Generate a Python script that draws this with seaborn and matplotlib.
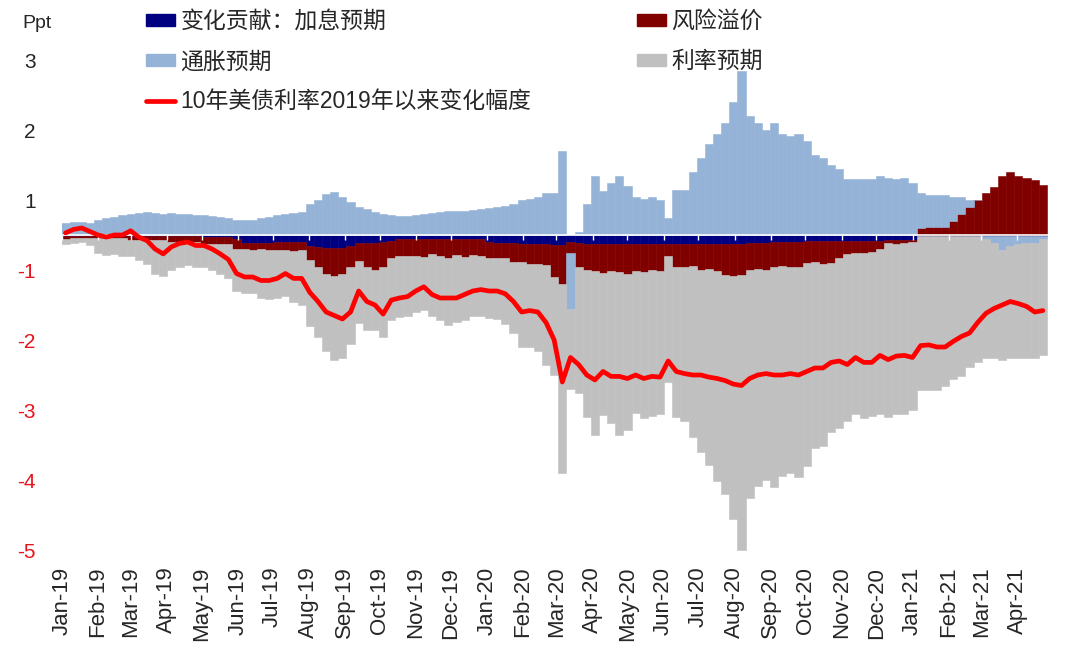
import numpy as np
import pandas as pd
import matplotlib
matplotlib.use('Agg')
import matplotlib.pyplot as plt
from matplotlib.patches import Patch
from matplotlib.lines import Line2D
import seaborn as sns

# weekly observations (Friday), Jan-2019 .. Apr-2021, in percentage points
weeks = pd.date_range('2019-01-04', '2021-04-23', freq='W-FRI')

hike = [
    -0.01, -0.01, -0.01, -0.01, -0.01, -0.01, -0.01, -0.01, -0.01, -0.01,
    -0.01, -0.01, -0.01, -0.01, -0.01, -0.01, -0.01, -0.03, -0.03, -0.03,
    -0.03, -0.05, -0.12, -0.12, -0.12, -0.12, -0.10, -0.10, -0.10, -0.10,
    -0.15, -0.17, -0.18, -0.18, -0.18, -0.15, -0.12, -0.12, -0.12, -0.10,
    -0.08, -0.06, -0.06, -0.05, -0.05, -0.05, -0.05, -0.05, -0.05, -0.05,
    -0.05, -0.06, -0.10, -0.12, -0.12, -0.12, -0.13, -0.13, -0.13, -0.13,
    -0.14, -0.14, -0.10, -0.12, -0.13, -0.13, -0.13, -0.13, -0.13, -0.13,
    -0.13, -0.13, -0.13, -0.13, -0.13, -0.13, -0.13, -0.13, -0.13, -0.13,
    -0.13, -0.13, -0.13, -0.13, -0.12, -0.12, -0.12, -0.10, -0.10, -0.10,
    -0.10, -0.09, -0.09, -0.09, -0.09, -0.09, -0.08, -0.08, -0.08, -0.08,
    -0.08, -0.07, -0.07, -0.07, -0.07, -0.01, -0.01, -0.01, -0.01, -0.01,
    -0.01, -0.01, -0.01, -0.01, -0.01, -0.01, -0.01, -0.01, -0.01, -0.01,
    -0.01]

risk = [
    -0.04, -0.03, -0.03, -0.03, -0.03, -0.03, -0.03, -0.03, -0.06, -0.06,
    -0.06, -0.06, -0.06, -0.09, -0.09, -0.09, -0.09, -0.10, -0.10, -0.10,
    -0.10, -0.15, -0.08, -0.09, -0.08, -0.10, -0.12, -0.11, -0.13, -0.12,
    -0.20, -0.28, -0.37, -0.40, -0.37, -0.30, -0.25, -0.33, -0.38, -0.35,
    -0.25, -0.24, -0.24, -0.25, -0.27, -0.22, -0.25, -0.28, -0.24, -0.26,
    -0.23, -0.24, -0.23, -0.21, -0.21, -0.26, -0.25, -0.29, -0.29, -0.30,
    -0.46, -0.56, -0.15, -0.33, -0.37, -0.39, -0.41, -0.38, -0.40, -0.42,
    -0.38, -0.40, -0.37, -0.39, -0.17, -0.32, -0.33, -0.31, -0.37, -0.36,
    -0.38, -0.44, -0.45, -0.44, -0.38, -0.37, -0.38, -0.35, -0.34, -0.35,
    -0.35, -0.31, -0.30, -0.32, -0.31, -0.24, -0.19, -0.17, -0.18, -0.16,
    -0.12, -0.05, -0.06, -0.05, -0.03, 0.10, 0.12, 0.12, 0.12, 0.20,
    0.30, 0.40, 0.50, 0.60, 0.68, 0.85, 0.90, 0.85, 0.82, 0.78,
    0.72]

inflation = [
    0.17, 0.19, 0.18, 0.17, 0.22, 0.24, 0.26, 0.28, 0.30, 0.32,
    0.33, 0.32, 0.30, 0.31, 0.30, 0.30, 0.29, 0.28, 0.27, 0.26,
    0.24, 0.22, 0.21, 0.21, 0.24, 0.26, 0.28, 0.30, 0.31, 0.33,
    0.45, 0.50, 0.58, 0.62, 0.55, 0.47, 0.40, 0.37, 0.33, 0.30,
    0.28, 0.27, 0.27, 0.29, 0.30, 0.32, 0.33, 0.34, 0.34, 0.35,
    0.36, 0.37, 0.38, 0.40, 0.42, 0.45, 0.50, 0.52, 0.55, 0.60,
    0.60, 1.20, -0.80, 0.05, 0.45, 0.85, 0.63, 0.75, 0.85, 0.70,
    0.55, 0.52, 0.55, 0.50, 0.25, 0.65, 0.65, 0.90, 1.10, 1.30,
    1.45, 1.60, 1.90, 2.35, 1.70, 1.60, 1.50, 1.60, 1.45, 1.42,
    1.45, 1.35, 1.15, 1.10, 1.00, 0.95, 0.80, 0.80, 0.80, 0.80,
    0.85, 0.82, 0.80, 0.82, 0.75, 0.50, 0.45, 0.45, 0.45, 0.35,
    0.25, 0.10, 0.00, -0.05, -0.10, -0.20, -0.15, -0.12, -0.10, -0.10,
    -0.05]

rate = [
    -0.08, -0.08, -0.06, -0.10, -0.21, -0.24, -0.23, -0.26, -0.23, -0.29,
    -0.35, -0.48, -0.51, -0.40, -0.35, -0.33, -0.36, -0.32, -0.37, -0.42,
    -0.49, -0.60, -0.63, -0.62, -0.70, -0.70, -0.68, -0.66, -0.73, -0.78,
    -0.95, -1.00, -1.10, -1.20, -1.20, -1.10, -0.88, -0.90, -0.85, -1.00,
    -0.89, -0.87, -0.85, -0.80, -0.75, -0.88, -0.92, -0.95, -0.95, -0.90,
    -0.87, -0.85, -0.85, -0.87, -0.94, -1.02, -1.22, -1.18, -1.23, -1.43,
    -1.40, -2.70, -1.15, -1.80, -2.10, -2.33, -2.03, -2.18, -2.33, -2.23,
    -2.03, -2.08, -2.08, -2.03, -1.80, -2.15, -2.20, -2.45, -2.60, -2.80,
    -3.00, -3.13, -3.48, -3.93, -3.25, -3.10, -3.00, -3.15, -3.00, -2.95,
    -3.00, -2.90, -2.65, -2.60, -2.42, -2.42, -2.38, -2.30, -2.35, -2.35,
    -2.35, -2.48, -2.43, -2.43, -2.40, -2.20, -2.20, -2.20, -2.15, -2.05,
    -2.00, -1.88, -1.80, -1.70, -1.65, -1.58, -1.60, -1.62, -1.65, -1.65,
    -1.66]

ust10y_change = [
    0.03, 0.08, 0.10, 0.05, 0.00, -0.03, 0.00, 0.00, 0.06, -0.03,
    -0.08, -0.20, -0.27, -0.17, -0.12, -0.10, -0.15, -0.15, -0.20, -0.27,
    -0.35, -0.55, -0.60, -0.60, -0.65, -0.65, -0.62, -0.55, -0.62, -0.62,
    -0.82, -0.95, -1.10, -1.15, -1.20, -1.10, -0.80, -0.95, -1.00, -1.13,
    -0.93, -0.90, -0.88, -0.80, -0.74, -0.85, -0.90, -0.90, -0.90, -0.85,
    -0.80, -0.78, -0.80, -0.80, -0.84, -0.95, -1.10, -1.08, -1.10, -1.25,
    -1.50, -2.10, -1.75, -1.85, -2.00, -2.07, -1.95, -2.02, -2.02, -2.05,
    -2.00, -2.05, -2.02, -2.03, -1.80, -1.95, -1.98, -2.00, -2.00, -2.03,
    -2.05, -2.08, -2.13, -2.15, -2.05, -2.00, -1.98, -2.00, -2.00, -1.98,
    -2.00, -1.95, -1.90, -1.90, -1.82, -1.80, -1.85, -1.75, -1.82, -1.82,
    -1.72, -1.78, -1.73, -1.72, -1.75, -1.58, -1.57, -1.60, -1.60, -1.52,
    -1.45, -1.40, -1.25, -1.12, -1.05, -1.00, -0.95, -0.98, -1.02, -1.10,
    -1.08]

series_names = ['变化贡献：加息预期', '风险溢价', '通胀预期', '利率预期']
line_name = '10年美债利率2019年以来变化幅度'
ytick_labels = ['3', '2', '1', '-1', '-2', '-3', '-4', '-5']

colors = ['#000080', '#800000', '#95B3D7', '#C0C0C0']
line_color = '#FF0000'

sns.set_theme(style='white')
plt.rcParams['font.family'] = ['Liberation Sans', 'Noto Sans CJK SC']

fig = plt.figure(figsize=(10.8, 6.51), dpi=100)
ax = fig.add_axes([62 / 1080, 94 / 651, 989 / 1080, 553 / 651])

# stacked columns: positives and negatives stack separately, in legend order
pos = np.zeros(len(weeks))
neg = np.zeros(len(weeks))
for vals, col in zip([hike, risk, inflation, rate], colors):
    v = np.asarray(vals)
    base = np.where(v >= 0, pos, neg)
    ax.bar(weeks, v, bottom=base, width=7, color=col, edgecolor=col,
           linewidth=0.4, zorder=2)
    pos = pos + np.clip(v, 0, None)
    neg = neg + np.clip(v, None, 0)

months = pd.date_range('2019-01-01', '2021-04-01', freq='MS')
ax.axhline(0, color='white', lw=1.2, zorder=3)
ax.vlines(months, -0.07, 0, color='white', lw=1, zorder=3)

sns.lineplot(x=weeks, y=ust10y_change, ax=ax, color=line_color, linewidth=3.4,
             legend=False, zorder=5)

ax.set_xlim(pd.Timestamp('2019-01-01'), pd.Timestamp('2021-04-30'))
ax.set_ylim(-4.6, 3.3)
ax.set_xlabel('')
ax.set_ylabel('')
ax.set_xticks(months)
ax.set_xticklabels([d.strftime('%b-%y') for d in months], rotation=90, fontsize=16)
ax.set_yticks([2.5, 1.5, 0.5, -0.5, -1.5, -2.5, -3.5, -4.5])
ax.set_yticklabels(ytick_labels, fontsize=15)
for lab in ax.get_yticklabels():
    if lab.get_text().startswith('-'):
        lab.set_color('#E8141C')
ax.tick_params(axis='x', length=0, pad=7)
ax.tick_params(axis='y', length=0, pad=19)
sns.despine(ax=ax, left=True, bottom=True)
ax.grid(False)

fig.text(22 / 1080, 1 - 23 / 651, 'Ppt', fontsize=14, va='center', ha='left')

leg_kw = dict(loc='upper left', frameon=False, fontsize=16.5, handlelength=1.25,
              handleheight=0.45, handletextpad=0.25, labelspacing=0.75,
              borderpad=0, borderaxespad=0)
h1 = [Patch(color=colors[0]), Patch(color=colors[2]),
      Line2D([], [], color=line_color, lw=3.4)]
fig.legend(h1, [series_names[0], series_names[2], line_name],
           bbox_to_anchor=(146 / 1080, 1 - 10 / 651), **leg_kw)
h2 = [Patch(color=colors[1]), Patch(color=colors[3])]
fig.legend(h2, [series_names[1], series_names[3]],
           bbox_to_anchor=(637 / 1080, 1 - 10 / 651), **leg_kw)

fig.savefig('out.png', dpi=100)
